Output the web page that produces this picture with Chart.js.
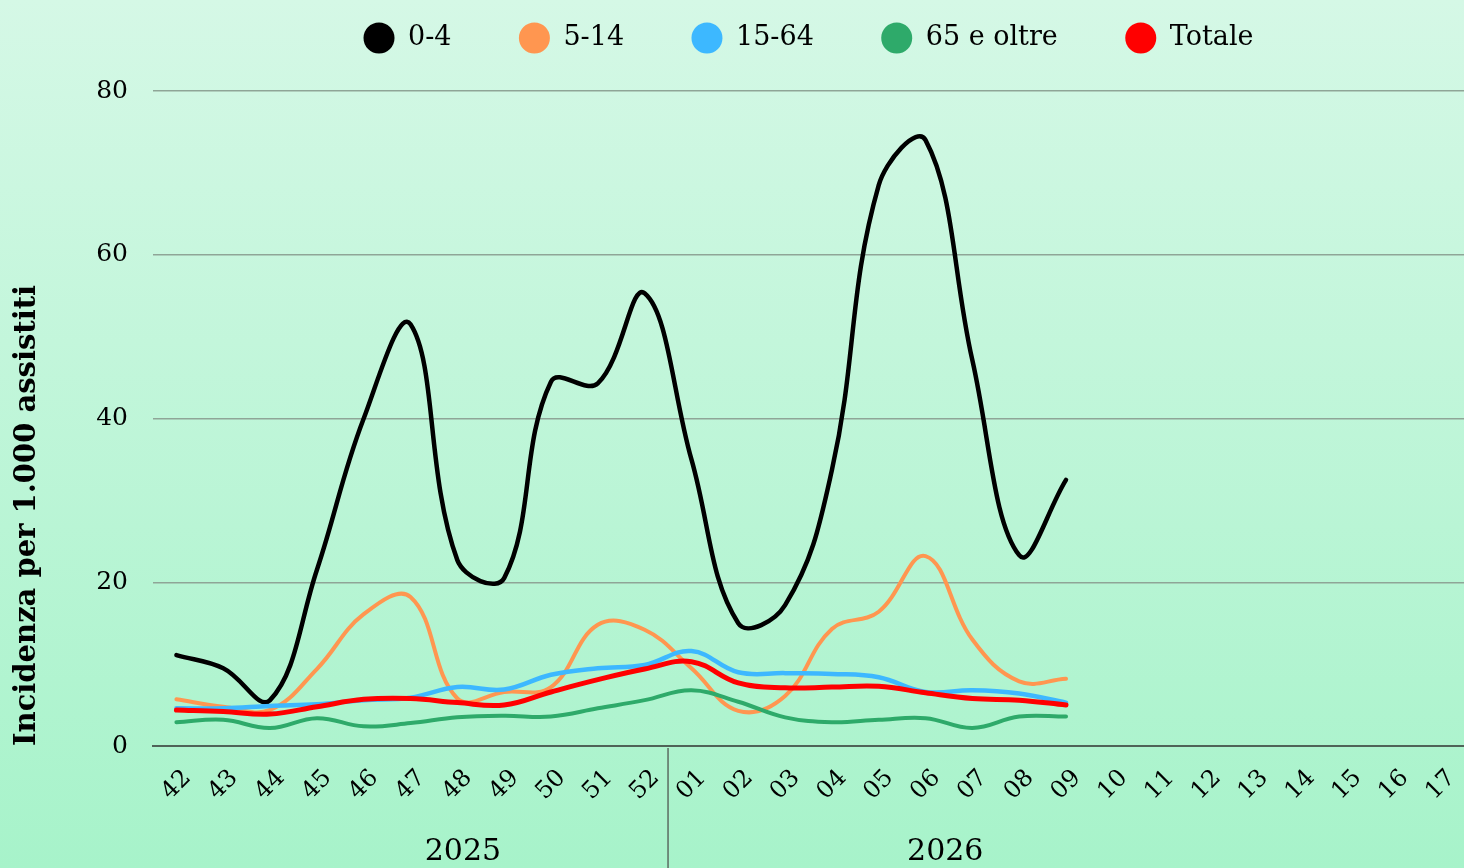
<!DOCTYPE html>
<html>
<head>
<meta charset="utf-8">
<script src="https://cdn.jsdelivr.net/npm/chart.js@4"></script>
<style>
  html, body { margin: 0; padding: 0; }
  body { width: 1464px; height: 868px; background: linear-gradient(#d5f8e6, #a7f3ca); overflow: hidden; }
  canvas { display: block; }
</style>
</head>
<body>
<canvas id="grafico" width="1464" height="868"></canvas>
<script>
// settimane (42-52 del 2025, 01-17 del 2026)
const settimane = ['42','43','44','45','46','47','48','49','50','51','52',
  '01','02','03','04','05','06','07','08','09','10','11','12','13','14','15','16','17'];
const anni = ['2025', '2026'];

// incidenza per 1.000 assistiti, per fascia d'eta
const eta0_4   = [11.1, 9.5, 5.6, 21.5, 40, 51.5, 22.7, 20.5, 44.5, 44.3, 55.3, 35, 15, 17.2, 33.7, 68.5, 74, 47.1, 23.3, 32.5];
const eta5_14  = [5.7, 4.8, 4.4, 9.4, 16.1, 18.2, 5.8, 6.6, 7.2, 14.8, 14.2, 9.5, 4.3, 6.1, 14.3, 16.4, 23.2, 13, 7.9, 8.2];
const eta15_64 = [4.6, 4.6, 4.9, 5.1, 5.6, 5.9, 7.2, 6.9, 8.7, 9.5, 9.9, 11.6, 9.0, 8.9, 8.8, 8.4, 6.6, 6.8, 6.4, 5.3];
const eta65    = [2.9, 3.2, 2.2, 3.4, 2.4, 2.8, 3.5, 3.7, 3.6, 4.6, 5.6, 6.8, 5.4, 3.5, 2.9, 3.2, 3.4, 2.2, 3.6, 3.6];
const totale   = [4.4, 4.2, 3.9, 4.8, 5.7, 5.8, 5.3, 5.0, 6.6, 8.1, 9.4, 10.3, 7.7, 7.1, 7.2, 7.3, 6.5, 5.8, 5.6, 5.0];

const fontSerif = "'DejaVu Serif', serif";

function serie(label, data, colore, spessore, ordine) {
  return {
    label, data,
    borderColor: colore, backgroundColor: colore,
    borderWidth: spessore, pointRadius: 0, pointHoverRadius: 0,
    tension: 0.4, borderCapStyle: 'round', borderJoinStyle: 'round',
    order: ordine
  };
}

// anni sotto le etichette + linea di separazione
const pluginAnni = {
  id: 'anni',
  afterDraw(chart) {
    const ctx = chart.ctx;
    const x = chart.scales.x;
    const area = chart.chartArea;
    const sep = x.getPixelForValue(10.5);
    ctx.save();
    ctx.strokeStyle = '#5b6b61';
    ctx.lineWidth = 1.5;
    ctx.beginPath();
    ctx.moveTo(sep, area.bottom + 2);
    ctx.lineTo(sep, chart.height);
    ctx.stroke();
    ctx.fillStyle = '#000';
    ctx.font = "30px " + fontSerif;
    ctx.textAlign = 'center';
    ctx.textBaseline = 'middle';
    const centri = [6.12, 16.42];
    anni.forEach((a, i) => ctx.fillText(a, x.getPixelForValue(centri[i]), area.bottom + 106));
    ctx.restore();
  }
};

new Chart(document.getElementById('grafico'), {
  type: 'line',
  data: {
    labels: settimane,
    datasets: [
      serie('0-4', eta0_4, '#000000', 4.5, 4),
      serie('5-14', eta5_14, '#ff9650', 4, 3),
      serie('15-64', eta15_64, '#3db8ff', 4.5, 1),
      serie('65 e oltre', eta65, '#2eaa6a', 4, 2),
      serie('Totale', totale, '#ff0000', 5, 0)
    ]
  },
  options: {
    responsive: false,
    animation: false,
    layout: { padding: 0 },
    plugins: {
      tooltip: { enabled: false },
      // titolo vuoto: solo spazio tra legenda e grafico
      title: {
        display: true, text: '', weight: 500,
        font: { size: 10 }, padding: { top: 0, bottom: 17.5 }
      },
      legend: {
        position: 'top',
        fullSize: false,
        labels: {
          usePointStyle: true,
          pointStyle: 'circle',
          pointStyleWidth: 31,
          boxHeight: 22,
          padding: 24.5,
          color: '#000',
          font: { family: fontSerif, size: 27 },
          sort: (a, b) => a.datasetIndex - b.datasetIndex,
          generateLabels(chart) {
            const voci = Chart.defaults.plugins.legend.labels.generateLabels(chart);
            return voci.map(v => {
              v.lineWidth = 0;
              if (v.datasetIndex < 4) v.text = v.text + '     ';
              return v;
            });
          }
        }
      }
    },
    scales: {
      x: {
        offset: true,
        grid: { display: false, drawTicks: false },
        border: { display: true, color: '#4f6358', width: 2 },
        ticks: {
          autoSkip: false, minRotation: 45, maxRotation: 45, padding: 18, labelOffset: 11,
          color: '#000', font: { family: fontSerif, size: 24 }
        },
        afterFit(scale) { scale.height = 122; scale.paddingLeft = 0; scale.paddingRight = 0; }
      },
      y: {
        min: 0, max: 80,
        grid: {
          drawTicks: false,
          color: c => c.tick.value === 0 ? '#4f6358' : '#8fa597',
          lineWidth: c => c.tick.value === 0 ? 2 : 1.5
        },
        border: { display: false },
        ticks: {
          stepSize: 20, padding: 25,
          color: '#000', font: { family: fontSerif, size: 25 }
        },
        title: {
          display: true,
          text: 'Incidenza per 1.000 assistiti',
          align: 'start',
          color: '#000',
          font: { family: fontSerif, size: 29, weight: 'bold' },
          padding: { top: 10, bottom: 0 }
        },
        afterFit(scale) { scale.width = 153; }
      }
    }
  },
  plugins: [pluginAnni]
});
</script>
</body>
</html>
